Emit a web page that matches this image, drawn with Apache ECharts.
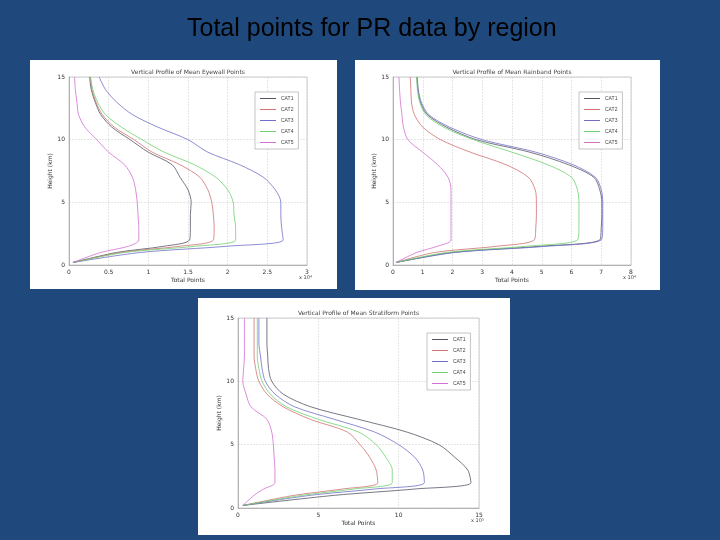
<!DOCTYPE html>
<html><head><meta charset="utf-8">
<script src="https://cdn.jsdelivr.net/npm/echarts@6/dist/echarts.min.js"></script>
<style>html,body{margin:0;padding:0;background:#1f497d}#c{width:720px;height:540px}</style>
</head><body><div id="c"></div>
<script>
// shared height levels (km)
const heights = [0.2, 1, 1.5, 2, 3, 4, 5, 6, 7, 8, 9, 10, 11, 12, 13, 14, 15];
const cats = ['CAT1', 'CAT2', 'CAT3', 'CAT4', 'CAT5'];
const colors = ['#555566', '#d07070', '#7070c8', '#70d070', '#d070d0'];

// Eyewall (x 10^4)
const eyeCat1 = [0.05, 0.6, 1.2, 1.52, 1.53, 1.53, 1.54, 1.5, 1.4, 1.3, 1.0, 0.77, 0.54, 0.4, 0.33, 0.28, 0.26];
const eyeCat2 = [0.05, 0.65, 1.4, 1.82, 1.83, 1.82, 1.8, 1.75, 1.65, 1.4, 1.05, 0.82, 0.57, 0.42, 0.34, 0.29, 0.27];
const eyeCat3 = [0.05, 0.9, 2.0, 2.7, 2.68, 2.67, 2.67, 2.6, 2.45, 2.15, 1.75, 1.5, 1.12, 0.8, 0.6, 0.46, 0.38];
const eyeCat4 = [0.05, 0.7, 1.6, 2.1, 2.1, 2.08, 2.07, 2.0, 1.85, 1.58, 1.2, 0.92, 0.66, 0.46, 0.36, 0.3, 0.27];
const eyeCat5 = [0.05, 0.4, 0.75, 0.88, 0.88, 0.87, 0.86, 0.84, 0.8, 0.7, 0.5, 0.35, 0.2, 0.12, 0.1, 0.08, 0.07];

// Rainband (x 10^4)
const rainCat1 = [0.1, 2.0, 5.0, 6.95, 7.0, 7.02, 7.02, 6.95, 6.75, 5.9, 4.6, 2.8, 1.8, 1.15, 0.92, 0.84, 0.8];
const rainCat2 = [0.1, 1.4, 3.5, 4.75, 4.8, 4.82, 4.82, 4.78, 4.55, 3.8, 2.6, 1.6, 1.0, 0.72, 0.62, 0.6, 0.58];
const rainCat3 = [0.1, 2.1, 5.2, 7.0, 7.05, 7.05, 7.05, 7.0, 6.8, 6.05, 4.8, 3.0, 1.9, 1.2, 0.95, 0.85, 0.82];
const rainCat4 = [0.1, 1.8, 4.5, 6.2, 6.25, 6.25, 6.25, 6.2, 6.0, 5.2, 4.0, 2.7, 1.7, 1.1, 0.9, 0.82, 0.8];
const rainCat5 = [0.1, 0.8, 1.5, 1.95, 1.95, 1.95, 1.95, 1.95, 1.85, 1.5, 1.0, 0.5, 0.35, 0.3, 0.25, 0.22, 0.2];

// Stratiform (x 10^5)
const stratCat1 = [0.3, 6, 11, 14.5, 14.3, 13.5, 12.5, 10.5, 7.5, 4.5, 2.8, 2.1, 1.9, 1.85, 1.8, 1.8, 1.8];
const stratCat2 = [0.3, 3.5, 6.5, 8.7, 8.6, 8.2, 7.6, 6.8, 4.5, 2.8, 1.8, 1.3, 1.1, 1.0, 1.0, 1.0, 1.0];
const stratCat3 = [0.3, 4.5, 8.5, 11.6, 11.5, 11.0, 10.0, 8.5, 6.0, 3.5, 2.3, 1.7, 1.5, 1.4, 1.3, 1.3, 1.3];
const stratCat4 = [0.3, 4, 7.2, 9.6, 9.6, 9.2, 8.6, 7.5, 5.0, 3.0, 2.0, 1.5, 1.3, 1.2, 1.2, 1.2, 1.2];
const stratCat5 = [0.3, 1.0, 1.6, 2.3, 2.3, 2.25, 2.2, 2.1, 1.8, 0.8, 0.5, 0.3, 0.35, 0.4, 0.4, 0.4, 0.4];

const panels = [
  { title: 'Vertical Profile of Mean Eyewall Points', box: [30, 60, 307, 229], grid: [69, 77, 238, 188], xmax: 3, xint: 0.5, exp: 'x 10⁴', data: [eyeCat1, eyeCat2, eyeCat3, eyeCat4, eyeCat5] },
  { title: 'Vertical Profile of Mean Rainband Points', box: [355, 60, 305, 230], grid: [393, 77, 238, 188], xmax: 8, xint: 1, exp: 'x 10⁴', data: [rainCat1, rainCat2, rainCat3, rainCat4, rainCat5] },
  { title: 'Vertical Profile of Mean Stratiform Points', box: [198, 298, 312, 237], grid: [238, 318, 241, 190], xmax: 15, xint: 5, exp: 'x 10⁵', data: [stratCat1, stratCat2, stratCat3, stratCat4, stratCat5] }
];

const axisTxt = { color: '#333', fontSize: 6, fontFamily: 'DejaVu Sans' };
const grids = [], xAxes = [], yAxes = [], series = [], legends = [];
const graphics = [{ type: 'text', left: 187, top: 17, style: { text: 'Total points for PR data by region', fill: '#000', font: '25px "Liberation Sans", Arial' } }];

panels.forEach((p, i) => {
  graphics.push({ type: 'rect', shape: { x: p.box[0], y: p.box[1], width: p.box[2], height: p.box[3] }, style: { fill: '#fff' }, z: -1 });
  graphics.push({ type: 'text', x: p.grid[0] + p.grid[2] / 2, y: p.grid[1] - 8, style: { text: p.title, fill: '#444', font: '6px "DejaVu Sans"', textAlign: 'center' } });
  graphics.push({ type: 'text', x: p.grid[0] + p.grid[2] - 8, y: p.grid[1] + p.grid[3] + 10, style: { text: p.exp, fill: '#444', font: '5px "DejaVu Sans"' } });
  grids.push({ left: p.grid[0], top: p.grid[1], width: p.grid[2], height: p.grid[3], show: true, borderColor: '#999', borderWidth: 0.5 });
  xAxes.push({ gridIndex: i, type: 'value', min: 0, max: p.xmax, interval: p.xint, name: 'Total Points', nameLocation: 'middle', nameGap: 12, nameTextStyle: axisTxt,
    axisLabel: Object.assign({ margin: 4 }, axisTxt), axisLine: { lineStyle: { color: '#888', width: 0.5 } }, axisTick: { show: false },
    splitLine: { lineStyle: { color: '#ccc', type: 'dashed', width: 0.5 } } });
  yAxes.push({ gridIndex: i, type: 'value', min: 0, max: 15, interval: 5, name: 'Height (km)', nameLocation: 'middle', nameGap: 12, nameTextStyle: axisTxt,
    axisLabel: Object.assign({ margin: 4 }, axisTxt), axisLine: { lineStyle: { color: '#888', width: 0.5 } }, axisTick: { show: false },
    splitLine: { lineStyle: { color: '#ccc', type: 'dashed', width: 0.5 } } });
  p.data.forEach((vals, k) => {
    series.push({ type: 'line', name: cats[k], xAxisIndex: i, yAxisIndex: i, smooth: 0.3, symbol: 'none',
      lineStyle: { width: 0.8, color: colors[k] }, itemStyle: { color: colors[k] },
      data: vals.map((v, j) => [v, heights[j]]) });
  });
  legends.push({ left: p.grid[0] + p.grid[2] - 52, top: p.grid[1] + 15, orient: 'vertical', icon: 'rect', itemWidth: 16, itemHeight: 1, itemGap: 6,
    padding: [4, 5], borderColor: '#888', borderWidth: 0.5, backgroundColor: '#fff',
    textStyle: { fontSize: 5, color: '#444' }, data: cats });
});

const chart = echarts.init(document.getElementById('c'));
chart.setOption({ animation: false, backgroundColor: '#1f497d', graphic: graphics, grid: grids, xAxis: xAxes, yAxis: yAxes, legend: legends, series: series });
</script></body></html>
